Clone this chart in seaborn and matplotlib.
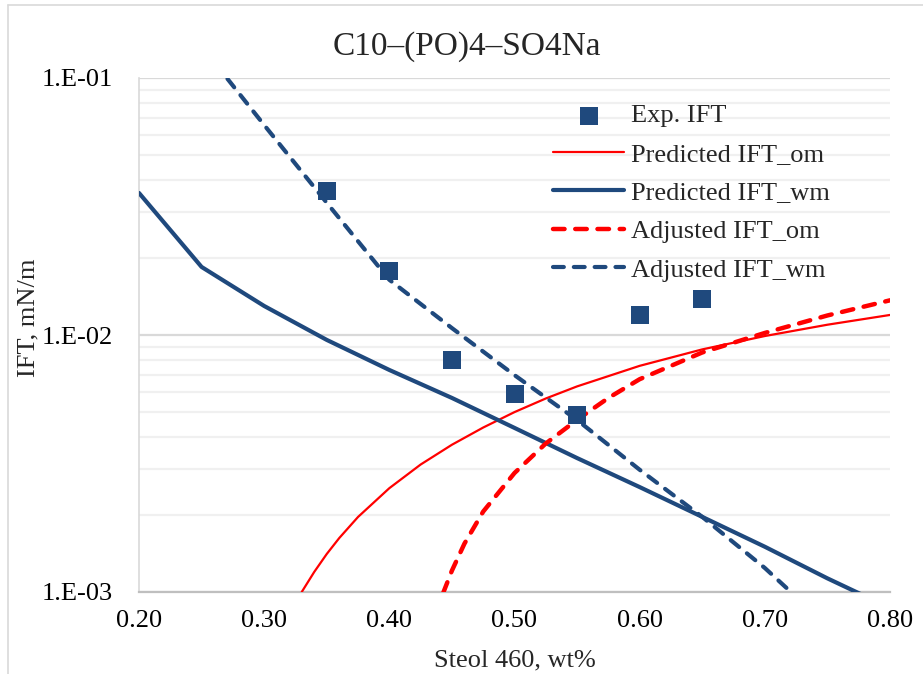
"""IFT vs Steol 460 concentration for C10-(PO)4-SO4Na (log scale)."""

import matplotlib
matplotlib.use("Agg")
import matplotlib.pyplot as plt
from matplotlib.lines import Line2D
from matplotlib.ticker import LogLocator, FixedLocator, NullFormatter
import seaborn as sns

# --------------------------------------------------------
#       DATA
# --------------------------------------------------------

# experimental points
exp_x = [0.35, 0.40, 0.45, 0.50, 0.55, 0.60, 0.65]
exp_ift = [0.0363, 0.0177, 0.0080, 0.0059, 0.0049, 0.0120, 0.0138]

# predicted IFT, oil/microemulsion (thin red)
pred_om_x = [0.330, 0.340, 0.350, 0.360, 0.375, 0.400, 0.425, 0.450, 0.475,
             0.500, 0.525, 0.550, 0.600, 0.650, 0.700, 0.750, 0.800]
pred_om_ift = [0.00100, 0.001197, 0.001406, 0.001622, 0.001959, 0.002535,
               0.003133, 0.003741, 0.004365, 0.005012, 0.005662, 0.006310,
               0.007586, 0.008790, 0.009908, 0.010965, 0.011967]

# predicted IFT, water/microemulsion (thick blue)
pred_wm_x = [0.20, 0.25, 0.30, 0.35, 0.40, 0.45, 0.50, 0.55, 0.60,
             0.65, 0.70, 0.75, 0.80]
pred_wm_ift = [0.0357, 0.0184, 0.01297, 0.00957, 0.00731, 0.00569, 0.00435,
               0.00332, 0.00256, 0.00196, 0.00150, 0.00113, 0.000867]

# adjusted IFT, oil/microemulsion (red dashed)
adj_om_x = [0.443, 0.450, 0.460, 0.475, 0.500, 0.525, 0.550, 0.575,
            0.600, 0.650, 0.700, 0.750, 0.800]
adj_om_ift = [0.000991, 0.001211, 0.001542, 0.002056, 0.002904, 0.003784,
              0.004677, 0.005689, 0.006730, 0.008551, 0.010186, 0.011912,
              0.013646]

# adjusted IFT, water/microemulsion (blue dashed)
adj_wm_x = [0.25, 0.30, 0.35, 0.40, 0.45, 0.50, 0.55, 0.60, 0.65, 0.70, 0.75]
adj_wm_ift = [0.133, 0.0656, 0.0327, 0.0164, 0.01064, 0.00698, 0.00467,
              0.00299, 0.00196, 0.00124, 0.00074]

x_ticks = [0.20, 0.30, 0.40, 0.50, 0.60, 0.70, 0.80]
y_ticks = [1e-3, 1e-2, 1e-1]
y_tick_labels = ["1.E-03", "1.E-02", "1.E-01"]

BLUE = "#1F497D"
RED = "#FF0000"

# --------------------------------------------------------
#       PLOT
# --------------------------------------------------------

sns.set_theme(style="white")
plt.rcParams["font.family"] = ["Liberation Serif", "DejaVu Serif"]

W, H = 923, 674
fig = plt.figure(figsize=(W / 100, H / 100), dpi=100)
ax = fig.add_axes([139 / W, 82 / H, 751 / W, 514 / H])

sns.lineplot(x=pred_om_x, y=pred_om_ift, ax=ax, color=RED, lw=1.6,
             sort=False, estimator=None, label="Predicted IFT_om", zorder=3)
sns.lineplot(x=pred_wm_x, y=pred_wm_ift, ax=ax, color=BLUE, lw=3.0,
             sort=False, estimator=None, label="Predicted IFT_wm", zorder=3)
sns.lineplot(x=adj_om_x, y=adj_om_ift, ax=ax, color=RED, lw=3.2,
             sort=False, estimator=None, label="Adjusted IFT_om", zorder=3)
ax.lines[-1].set_dashes((2.6, 2.4))
ax.lines[-1].set_dash_capstyle("round")
sns.lineplot(x=adj_wm_x, y=adj_wm_ift, ax=ax, color=BLUE, lw=3.0,
             sort=False, estimator=None, label="Adjusted IFT_wm", zorder=3)
ax.lines[-1].set_dashes((2.6, 2.4))
ax.lines[-1].set_dash_capstyle("round")

sns.scatterplot(x=exp_x, y=exp_ift, ax=ax, color=BLUE, marker="s", s=150,
                linewidth=0, label="Exp. IFT", zorder=4)

ax.set_yscale("log")
ax.set_xlim(0.2, 0.8)
ax.set_ylim(1e-3, 1e-1)

ax.xaxis.set_major_locator(FixedLocator(x_ticks))
ax.set_xticklabels([f"{v:.2f}" for v in x_ticks])
ax.yaxis.set_major_locator(FixedLocator(y_ticks))
ax.set_yticklabels(y_tick_labels)
ax.yaxis.set_minor_locator(LogLocator(base=10, subs=range(2, 10)))
ax.yaxis.set_minor_formatter(NullFormatter())

ax.tick_params(axis="both", which="both", length=0, labelsize=19,
               colors="black")
ax.tick_params(axis="y", pad=19)
ax.tick_params(axis="x", pad=13)

# excel-like gridlines
ax.grid(False)
ax.yaxis.grid(True, which="major", color="#D9D9D9", lw=1.6, zorder=0)
ax.yaxis.grid(True, which="minor", color="#F0F0F0", lw=1.6, zorder=0)
ax.set_axisbelow(True)

for side in ["top", "right"]:
    ax.spines[side].set_visible(False)
ax.spines["left"].set_color("#D9D9D9")
ax.spines["left"].set_linewidth(1.2)
ax.spines["bottom"].set_color("#BFBFBF")
ax.spines["bottom"].set_linewidth(1.6)

ax.set_xlabel("")
ax.set_ylabel("")
fig.text(28 / W, 1 - 318 / H, "IFT, mN/m", rotation=90, fontsize=19,
         ha="center", va="center")
fig.text(515 / W, 1 - 660 / H, "Steol 460, wt%", fontsize=19,
         ha="center", va="center")
fig.text(467 / W, 1 - 47 / H, "C10\u2013(PO)4\u2013SO4Na", fontsize=24,
         ha="center", va="center")

# legend with the experimental points first
handles, labels = ax.get_legend_handles_labels()
order = [4, 0, 1, 2, 3]
leg = ax.legend([handles[i] for i in order], [labels[i] for i in order],
                loc="upper left", bbox_to_anchor=(553 / W, 1 - 104 / H),
                bbox_transform=fig.transFigure, frameon=False, fontsize=19,
                handlelength=2.7, handletextpad=0.25, labelspacing=0.57,
                borderpad=0, borderaxespad=0)

# chart area border (light grey, top and left visible)
fig.add_artist(Line2D([8 / W, 8 / W], [0, 1 - 5 / H], color="#D9D9D9", lw=1.2,
                      transform=fig.transFigure))
fig.add_artist(Line2D([8 / W, 1], [1 - 5 / H, 1 - 5 / H], color="#D9D9D9",
                      lw=1.2, transform=fig.transFigure))

fig.savefig("out.png", dpi=100)
